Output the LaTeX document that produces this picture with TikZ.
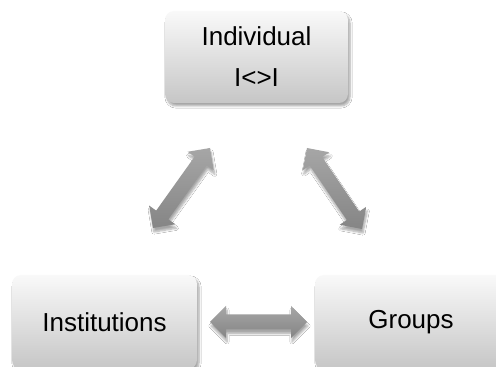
\documentclass[tikz,border=0pt]{standalone}
\usepackage{fontspec}
\setmainfont{Liberation Sans}
\usetikzlibrary{calc,shadows.blur}
\definecolor{boxtop}{HTML}{F9F9F9}
\definecolor{boxbot}{HTML}{C6C6C6}
\definecolor{arrtop}{HTML}{A6A6A6}
\definecolor{arrbot}{HTML}{858585}
\tikzset{
  panel/.style={rectangle, rounded corners=9pt, top color=boxtop, bottom color=boxbot,
    draw=none, font=\fontsize{26}{41}\selectfont, align=center,
    blur shadow={shadow xshift=2pt, shadow yshift=-3pt, shadow blur steps=6, shadow opacity=35}},
  arrowfill/.style={top color=arrtop, bottom color=arrbot, draw=none,
    blur shadow={shadow xshift=1pt, shadow yshift=-4pt, shadow blur steps=6, shadow opacity=35}}
}
\def\hl{16pt}
\def\hw{16pt}
\def\sw{7.5pt}
\newcommand\twoway[2]{%
  \path[arrowfill] (#1)
    -- ($(#1)!\hl!(#2)!\hw!90:(#2)$) -- ($(#1)!\hl!(#2)!\sw!90:(#2)$)
    -- ($(#2)!\hl!(#1)!\sw!-90:(#1)$) -- ($(#2)!\hl!(#1)!\hw!-90:(#1)$)
    -- (#2)
    -- ($(#2)!\hl!(#1)!\hw!90:(#1)$) -- ($(#2)!\hl!(#1)!\sw!90:(#1)$)
    -- ($(#1)!\hl!(#2)!\sw!-90:(#2)$) -- ($(#1)!\hl!(#2)!\hw!-90:(#2)$)
    -- cycle;}
\begin{document}
\begin{tikzpicture}[x=1pt,y=1pt]
\useasboundingbox (0,0) rectangle (496,367);
\fill[white] (0,0) rectangle (496,367);
\node[panel, minimum width=183pt, minimum height=92pt] (ind) at (256.5,310) {Individual\\I<>I};
\node[panel, minimum width=185pt, minimum height=94pt] (ins) at (104.5,45) {Institutions};
\node[panel, minimum width=192pt, minimum height=94pt] (grp) at (411,45) {Groups};
\coordinate (l1) at (153,139);
\coordinate (l2) at (210,219);
\coordinate (r1) at (307,219);
\coordinate (r2) at (362,138);
\coordinate (h1) at (210,45);
\coordinate (h2) at (307,45);
\twoway{l1}{l2}
\twoway{r1}{r2}
\twoway{h1}{h2}
\end{tikzpicture}
\end{document}
